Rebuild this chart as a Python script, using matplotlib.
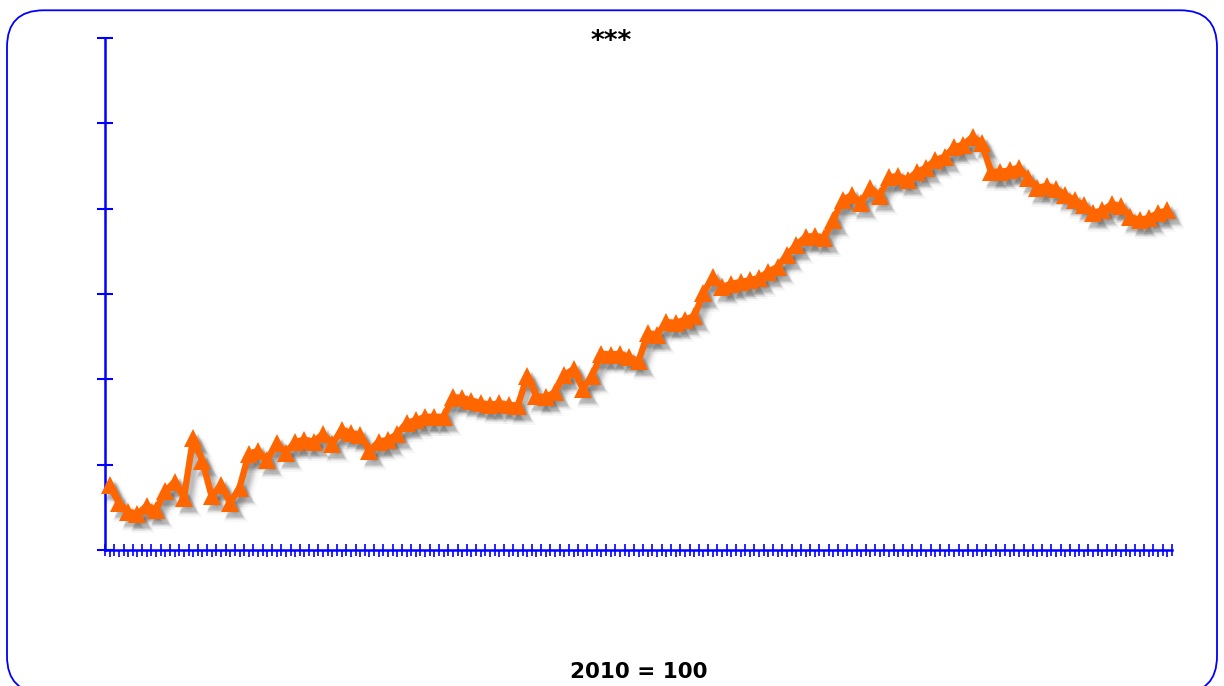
import numpy as np
import matplotlib
matplotlib.use("Agg")
import matplotlib.pyplot as plt
import matplotlib.transforms as mtransforms
from matplotlib.patches import FancyBboxPatch
from matplotlib.ticker import MultipleLocator

# index values (2010 = 100), read in y-tick units (ticks unlabelled)
values = [
    0.76, 0.55, 0.45, 0.42, 0.52, 0.47, 0.69, 0.80, 0.61, 1.31,
    1.04, 0.63, 0.76, 0.55, 0.73, 1.13, 1.16, 1.05, 1.25, 1.14,
    1.27, 1.29, 1.27, 1.36, 1.24, 1.41, 1.37, 1.35, 1.16, 1.27,
    1.29, 1.36, 1.49, 1.52, 1.56, 1.56, 1.56, 1.79, 1.78, 1.75,
    1.72, 1.70, 1.72, 1.70, 1.69, 2.04, 1.80, 1.79, 1.85, 2.05,
    2.12, 1.89, 2.04, 2.30, 2.29, 2.30, 2.26, 2.21, 2.54, 2.52,
    2.67, 2.66, 2.70, 2.74, 3.01, 3.20, 3.08, 3.12, 3.14, 3.16,
    3.19, 3.26, 3.32, 3.46, 3.57, 3.67, 3.68, 3.66, 3.87, 4.10,
    4.16, 4.07, 4.24, 4.15, 4.37, 4.38, 4.34, 4.43, 4.48, 4.57,
    4.61, 4.72, 4.75, 4.84, 4.77, 4.43, 4.43, 4.45, 4.48, 4.36,
    4.24, 4.27, 4.23, 4.16, 4.10, 4.04, 3.95, 3.98, 4.05, 4.03,
    3.90, 3.87, 3.89, 3.95, 3.98,
]
periods = np.arange(len(values))
title = "***"
xlabel = "2010 = 100"

blue = "#0000FF"
orange = "#FF6600"

fig = plt.figure(figsize=(12.24, 6.86), dpi=100)

# rounded frame around the whole chart
frame = FancyBboxPatch((7 / 1224, -0.01), 1210 / 1224, 0.995,
                       boxstyle="round,pad=0,rounding_size=0.03",
                       transform=fig.transFigure, fill=False,
                       edgecolor=blue, linewidth=1.3, mutation_aspect=1224 / 686)
fig.patches.append(frame)

ax = fig.add_axes([105 / 1224, 1 - 550 / 686, (1172 - 105) / 1224, (550 - 38) / 686])

# soft drop shadow: a few offset grey copies stacked
for dx, dy, lw, a in [(6, -7, 11, 0.04), (5, -6, 9, 0.06), (5, -6, 7, 0.08),
                      (5, -6, 5, 0.11), (4, -5, 4, 0.11)]:
    off = mtransforms.ScaledTranslation(dx / 100, dy / 100, fig.dpi_scale_trans)
    ax.plot(periods, values, color="#404040", alpha=a, linewidth=lw,
            marker="^", markersize=12.5 + (lw - 4) * 0.6, markeredgewidth=0,
            transform=ax.transData + off, zorder=2, clip_on=False)

ax.plot(periods, values, color=orange, linewidth=4.6, marker="^",
        markersize=12.5, markeredgewidth=0, zorder=3, clip_on=False)

ax.set_xlim(-0.5, len(values) - 0.5)
ax.set_ylim(0, 6)
ax.yaxis.set_major_locator(MultipleLocator(1))
ax.xaxis.set_major_locator(MultipleLocator(1, offset=0.5))
ax.xaxis.set_minor_locator(MultipleLocator(1))
ax.tick_params(axis="y", direction="inout", length=12, width=1.5, color=blue,
               labelleft=False)
ax.tick_params(axis="x", which="major", direction="inout", length=9, width=1.2,
               color=blue, labelbottom=False)
ax.tick_params(axis="x", which="minor", direction="out", length=5, width=1.2,
               color=blue)

for side in ["top", "right"]:
    ax.spines[side].set_visible(False)
for side in ["left", "bottom"]:
    ax.spines[side].set_color(blue)
    ax.spines[side].set_linewidth(1.8)

fig.text(611 / 1224, 1 - 42 / 686, title, ha="center", va="center",
         fontsize=19, fontweight="bold")
fig.text((105 + 1172) / 2 / 1224, 1 - 672 / 686, xlabel, ha="center", va="center",
         fontsize=15.5, fontweight="bold")

fig.savefig("out.png", dpi=100)
